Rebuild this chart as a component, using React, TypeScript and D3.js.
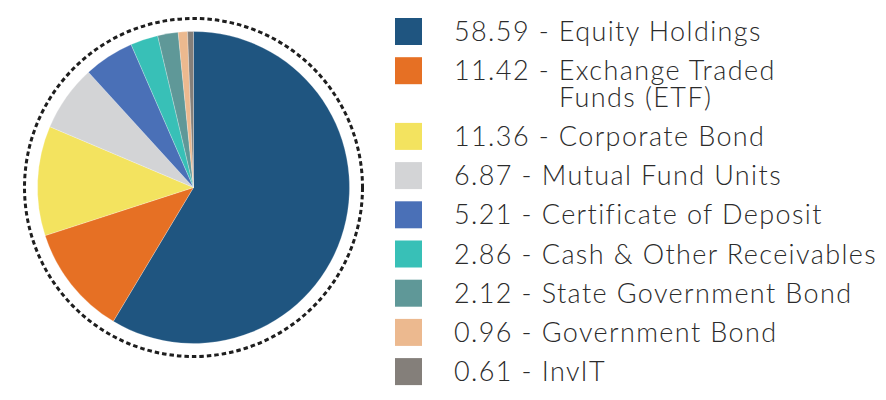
import React from "react";
import * as d3 from "d3";

const categories = [
  "Equity Holdings",
  "Exchange Traded Funds (ETF)",
  "Corporate Bond",
  "Mutual Fund Units",
  "Certificate of Deposit",
  "Cash & Other Receivables",
  "State Government Bond",
  "Government Bond",
  "InvIT",
];
const labelLines = [
  ["Equity Holdings"],
  ["Exchange Traded", "Funds (ETF)"],
  ["Corporate Bond"],
  ["Mutual Fund Units"],
  ["Certificate of Deposit"],
  ["Cash & Other Receivables"],
  ["State Government Bond"],
  ["Government Bond"],
  ["InvIT"],
];
const values = [58.59, 11.42, 11.36, 6.87, 5.21, 2.86, 2.12, 0.96, 0.61];
const valueLabels = ["58.59", "11.42", "11.36", "6.87", "5.21", "2.86", "2.12", "0.96", "0.61"];
const colors = [
  "#1f5580",
  "#e67024",
  "#f3e35f",
  "#d3d4d6",
  "#4a70b7",
  "#38c0b7",
  "#5f9898",
  "#ecb98f",
  "#847f7a",
];

const W = 886;
const H = 400;
const cx = 193.5;
const cy = 187.5;
const R = 156;
const dashR = 169;

const FONT = "Lato, 'Open Sans', sans-serif";

export default function App() {
  const pie = d3.pie<number>().sort(null).value((d) => d);
  const arcs = pie(values);
  const arcGen = d3.arc<d3.PieArcDatum<number>>().innerRadius(0).outerRadius(R);

  const color = d3.scaleOrdinal<string, string>().domain(categories).range(colors);

  const rowStart = 31.5;
  const rowStep = 39.2;
  const extraLine = 26.5;
  const rows: { y: number }[] = [];
  let y = rowStart;
  labelLines.forEach((lines) => {
    rows.push({ y });
    y += rowStep + (lines.length - 1) * extraLine;
  });

  return (
    <svg
      width={W}
      height={H}
      style={{ position: "absolute", left: 0, top: 0, background: "#fff" }}
    >
      <rect x={0} y={0} width={W} height={H} fill="#fff" />
      <g transform={`translate(${cx},${cy})`}>
        {arcs.map((a, i) => (
          <path
            key={categories[i]}
            d={arcGen(a) || ""}
            fill={color(categories[i])}
            stroke="#ffffff"
            strokeOpacity={0.4}
            strokeWidth={0.6}
          />
        ))}
        <circle
          r={dashR}
          fill="none"
          stroke="#1e1e1e"
          strokeWidth={3}
          strokeDasharray="4.5 3"
        />
      </g>
      <g>
        {categories.map((c, i) => {
          const ry = rows[i].y;
          const lines = labelLines[i];
          return (
            <g key={c}>
              <rect x={395} y={ry - 13.5} width={27} height={27} fill={color(c)} />
              <text
                x={454}
                y={ry + 9.5}
                fontFamily={FONT}
                fontWeight={300}
                fontSize={27}
                letterSpacing={1.4}
                fill="#2b2b2b"
              >
                <tspan x={454}>{`${valueLabels[i]} - ${lines[0]}`}</tspan>
                {lines.slice(1).map((l, j) => (
                  <tspan key={l} x={559} y={ry + 9.5 + (j + 1) * extraLine}>
                    {l}
                  </tspan>
                ))}
              </text>
            </g>
          );
        })}
      </g>
    </svg>
  );
}
